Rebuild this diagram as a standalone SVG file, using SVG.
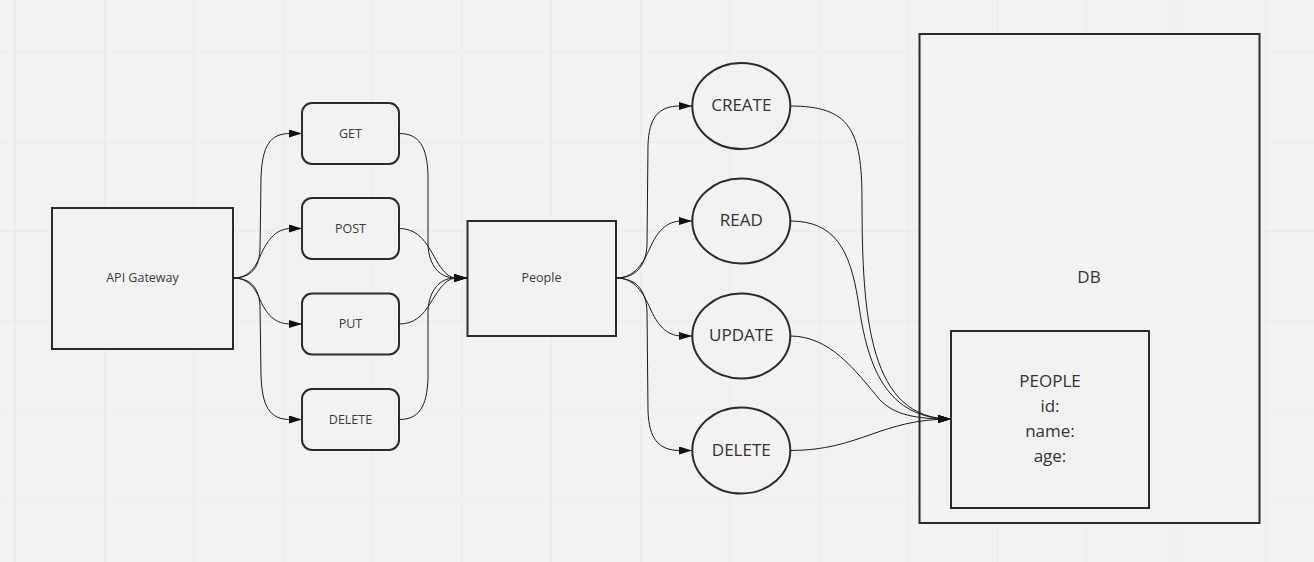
<svg xmlns="http://www.w3.org/2000/svg" width="1314" height="562" viewBox="0 0 1314 562">
<defs>
<pattern id="grid" x="14.7" y="52.3" width="89.3" height="89.3" patternUnits="userSpaceOnUse">
<path d="M0,0 H89.3 M0,0 V89.3" fill="none" stroke="#e6e6e6" stroke-width="1.2"/>
</pattern>
<marker id="arr" viewBox="0 0 13 8" refX="13" refY="4" markerWidth="13" markerHeight="8" markerUnits="userSpaceOnUse" orient="auto">
<path d="M0,0 L13,4 L0,8 z" fill="#111"/>
</marker>
<style>
.box{fill:#f2f2f2;stroke:#2b2b2b;stroke-width:2}
.edge{fill:none;stroke:#1a1a1a;stroke-width:1;marker-end:url(#arr)}
.s{font-family:"Open Sans","Liberation Sans",sans-serif;font-size:12.5px;fill:#3a3a3a;text-anchor:middle}
.l{font-family:"Open Sans","Liberation Sans",sans-serif;font-size:17px;fill:#333;text-anchor:middle}
</style>
</defs>
<rect width="1314" height="562" fill="#f2f2f2"/>
<rect width="1314" height="562" fill="url(#grid)"/>

<g id="db">
<rect class="box" x="919.5" y="34" width="340" height="489"/>
<text class="l" x="1089" y="283">DB</text>
</g>
<g id="people-table">
<rect class="box" x="951" y="331" width="198" height="177"/>
<text class="l" x="1050" y="387">PEOPLE</text>
<text class="l" x="1050" y="412">id:</text>
<text class="l" x="1050" y="437">name:</text>
<text class="l" x="1050" y="462">age:</text>
</g>

<g id="api-gateway">
<rect class="box" x="52" y="208" width="181" height="141"/>
<text class="s" x="142.5" y="282">API Gateway</text>
</g>
<g id="get">
<rect class="box" x="302" y="103" width="97" height="61" rx="10"/>
<text class="s" x="350.5" y="137.5">GET</text>
</g>
<g id="post">
<rect class="box" x="302" y="198" width="97" height="61" rx="10"/>
<text class="s" x="350.5" y="232.5">POST</text>
</g>
<g id="put">
<rect class="box" x="302" y="293.5" width="97" height="61" rx="10"/>
<text class="s" x="350.5" y="328">PUT</text>
</g>
<g id="delete-method">
<rect class="box" x="302" y="389" width="97" height="61" rx="10"/>
<text class="s" x="350.5" y="423.5">DELETE</text>
</g>
<g id="people">
<rect class="box" x="467.5" y="221" width="148.5" height="115"/>
<text class="s" x="541.5" y="282">People</text>
</g>
<g id="create">
<ellipse class="box" cx="741.3" cy="106" rx="49" ry="43"/>
<text class="l" x="741.3" y="111">CREATE</text>
</g>
<g id="read">
<ellipse class="box" cx="741.3" cy="221" rx="49" ry="42.5"/>
<text class="l" x="741.3" y="226">READ</text>
</g>
<g id="update">
<ellipse class="box" cx="741.3" cy="336" rx="49" ry="42.5"/>
<text class="l" x="741.3" y="341">UPDATE</text>
</g>
<g id="delete-op">
<ellipse class="box" cx="741.3" cy="450.5" rx="49" ry="43"/>
<text class="l" x="741.3" y="455.5">DELETE</text>
</g>

<g id="connectors">
<path class="edge" d="M233,278 C251,278 259,268 260,250 L261,178 C262,146 270,133.5 290,133.5 L302,133.5"/>
<path class="edge" d="M233,278 C250,278 256,266 262,252 C270,236 278,228.5 292,228.5 L302,228.5"/>
<path class="edge" d="M233,278 C250,278 256,290 262,304 C270,319 278,324 292,324 L302,324"/>
<path class="edge" d="M233,278 C251,278 259,288 260,306 L261,375 C262,407 270,419.5 290,419.5 L302,419.5"/>
<path class="edge" d="M399,133.5 C419,133.5 427,146 428,175 L428,245 C429,266 440,278 455,278 L467,278"/>
<path class="edge" d="M399,228.5 C414,228.5 423,237 431,251 C440,267 446,278 457,278 L467,278"/>
<path class="edge" d="M399,324 C414,324 423,316 431,302 C440,288 446,278 457,278 L467,278"/>
<path class="edge" d="M399,419.5 C419,419.5 427,407 428,378 L428,311 C429,290 440,278 455,278 L467,278"/>
<path class="edge" d="M616,278 C636,278 646,266 647,245 L648,145 C649,118 658,106 680,106 L692,106"/>
<path class="edge" d="M616,278 C635,278 643,263 650,248 C657,232 666,221 682,221 L692,221"/>
<path class="edge" d="M616,278 C635,278 643,293 650,308 C657,324 666,336 682,336 L692,336"/>
<path class="edge" d="M616,278 C636,278 646,290 647,311 L648,411 C649,438 658,450.5 680,450.5 L692,450.5"/>
<path class="edge" d="M790,106 C850,106 862,130 862,200 C862,320 870,419 951,419"/>
<path class="edge" d="M790,221 C835,221 850,250 858,300 C866,355 880,419 951,419"/>
<path class="edge" d="M790,336 C830,336 855,370 880,400 C895,415 915,419 951,419"/>
<path class="edge" d="M790,450.5 C860,450.5 880,419 951,419"/>
</g>
</svg>
